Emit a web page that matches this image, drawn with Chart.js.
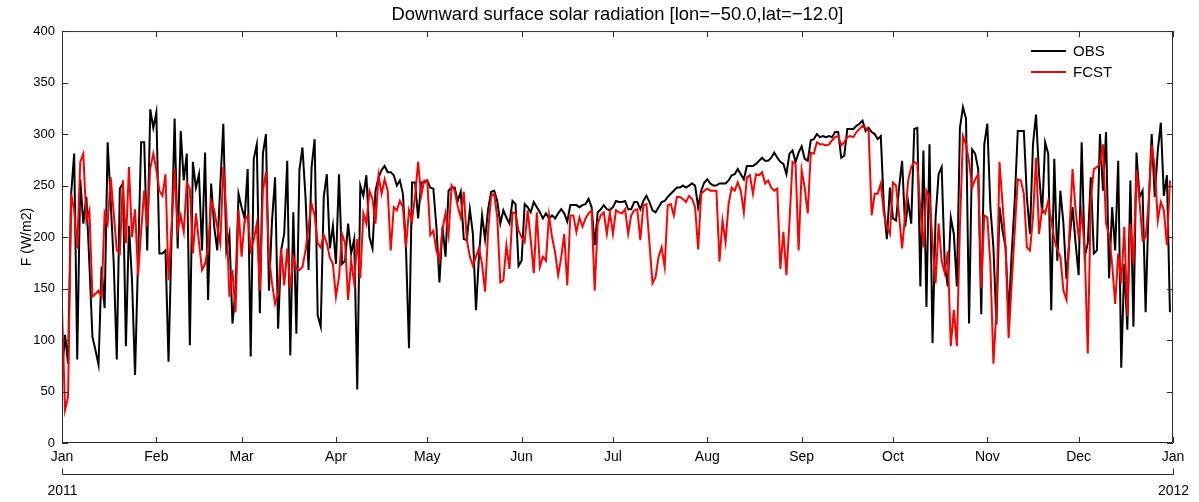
<!DOCTYPE html>
<html>
<head>
<meta charset="utf-8">
<script src="https://cdn.jsdelivr.net/npm/chart.js@4.4.1/dist/chart.umd.min.js"></script>
<style>
  html, body { margin: 0; padding: 0; background: #fff; }
  #wrap { width: 1199px; height: 502px; position: relative; }
</style>
</head>
<body>
<div id="wrap"><canvas id="c" width="1199" height="502"></canvas></div>
<script>
// Daily downward surface solar radiation for 2011 (W/m2), one row per month
const obs = [
  68,105,77,242,281,81,256,213,239,174,103,90,76,171,131,292,235,174,81,247,252,94,211,158,66,180,292,292,187,324,306,
  321,184,184,187,79,200,315,189,303,255,281,95,273,248,261,187,282,139,252,210,187,250,310,187,203,116,148,242,
  229,218,266,84,276,290,126,281,300,148,216,258,111,187,203,274,85,224,106,265,287,239,168,268,295,124,113,239,261,189,211,
  174,261,174,177,213,184,198,52,250,240,260,200,189,245,258,265,269,263,263,260,250,255,242,190,92,253,253,218,253,253,
  255,248,247,210,156,210,181,245,248,248,235,244,198,197,227,203,129,182,221,198,227,244,245,235,213,226,219,213,235,232,172,
  177,232,229,224,234,229,224,218,223,218,221,218,223,227,223,215,231,231,231,229,231,232,237,229,192,224,227,231,227,226,
  229,235,234,234,235,227,227,234,234,227,235,240,234,226,224,229,234,235,239,242,245,248,248,250,248,250,252,250,229,245,253,
  256,252,250,250,252,252,252,255,260,261,266,261,256,269,269,269,271,274,277,274,274,277,282,277,273,271,261,281,284,273,282,
  288,276,274,294,295,300,297,298,297,298,297,302,302,277,279,305,305,305,308,310,313,303,306,302,300,295,298,230,198,248,
  218,216,248,274,210,234,213,305,306,152,284,132,290,97,219,261,268,174,152,219,203,152,306,326,315,116,285,281,266,125,290,
  310,229,190,115,229,206,190,123,184,235,303,303,303,239,203,290,319,261,223,292,281,129,276,177,245,213,159,198,229,194,
  163,292,181,194,258,184,187,300,245,302,160,229,187,274,73,174,110,255,113,282,239,245,127,231,300,239,284,311,240,260,127
];
const fcst = [
  131,32,45,242,226,189,273,281,216,226,142,145,148,142,223,213,258,223,187,184,255,194,268,200,227,163,206,245,210,267,281,
  265,245,240,261,158,210,266,206,221,205,253,247,184,223,195,168,174,190,235,226,210,194,268,223,142,168,127,227,
  181,216,221,187,197,213,148,245,263,181,155,135,145,189,153,189,150,181,169,168,171,187,210,232,221,194,190,202,194,180,174,
  142,161,203,194,139,177,155,198,160,223,213,245,237,213,260,242,256,245,187,229,226,235,229,190,226,216,240,273,240,255,
  255,202,206,187,177,208,223,202,250,245,230,219,244,197,181,172,181,189,174,147,206,240,242,219,156,158,192,169,224,223,206,
  200,195,226,197,165,224,171,181,177,221,200,185,163,180,203,153,221,221,205,219,210,218,223,226,148,213,221,224,203,224,
  203,226,224,223,227,203,221,226,227,197,231,232,194,155,161,181,190,171,231,232,221,239,239,237,234,240,237,229,188,242,245,
  247,245,245,245,176,216,195,232,248,245,253,245,224,258,260,242,261,260,263,252,255,248,245,247,169,205,163,215,273,271,187,
  265,248,223,282,281,292,290,290,289,290,294,297,298,289,292,297,298,297,302,305,308,306,303,221,242,242,252,223,210,203,
  253,250,221,189,221,255,268,273,271,226,190,245,239,195,155,213,177,165,186,94,129,94,210,298,290,273,248,256,261,150,221,
  219,174,77,129,273,232,190,102,155,206,256,255,242,190,187,219,277,203,227,223,235,216,198,187,181,148,139,206,266,226,
  200,223,187,87,237,266,268,271,290,213,202,174,135,184,155,210,123,213,174,265,235,197,200,232,289,268,216,234,226,192,255
];

// Axis ticks: day-of-year at the start of each month, and y ticks
const monthStarts = [0,31,59,90,120,151,181,212,243,273,304,334,365];
const monthLabels = ['Jan','Feb','Mar','Apr','May','Jun','Jul','Aug','Sep','Oct','Nov','Dec','Jan'];
const yearLabels = ['2011','2012'];
const yTicks = [0,50,100,150,200,250,300,350,400];

const FONT = '"Liberation Sans", Arial, Helvetica, sans-serif';
const AXIS = '#2b2b2b';

// Box around the axes with inward tick marks, a year axis below the months, and an inset legend
const axesDecor = {
  id: 'axesDecor',
  afterDatasetsDraw(chart) {
    const { ctx, chartArea: a, scales: { x, y } } = chart;
    const tl = 6;
    ctx.save();
    ctx.strokeStyle = AXIS;
    ctx.lineWidth = 1;
    ctx.beginPath();
    ctx.rect(a.left + 0.5, a.top + 0.5, a.right - a.left - 1, a.bottom - a.top - 1);
    yTicks.forEach(v => {
      const py = Math.round(y.getPixelForValue(v)) + 0.5;
      ctx.moveTo(a.left, py); ctx.lineTo(a.left + tl, py);
      ctx.moveTo(a.right, py); ctx.lineTo(a.right - tl, py);
    });
    monthStarts.forEach(v => {
      const px = Math.round(x.getPixelForValue(v)) + 0.5;
      ctx.moveTo(px, a.bottom); ctx.lineTo(px, a.bottom - tl);
      ctx.moveTo(px, a.top); ctx.lineTo(px, a.top + tl);
    });
    ctx.stroke();
    ctx.restore();
  },
  afterDraw(chart) {
    const { ctx, scales: { x } } = chart;
    ctx.save();
    // year axis
    const yy = 474.5;
    ctx.strokeStyle = AXIS;
    ctx.lineWidth = 1;
    ctx.beginPath();
    const x0 = Math.round(x.getPixelForValue(monthStarts[0])) + 0.5;
    const x1 = Math.round(x.getPixelForValue(monthStarts[monthStarts.length - 1])) + 0.5;
    ctx.moveTo(x0, yy); ctx.lineTo(x1, yy);
    ctx.moveTo(x0, yy); ctx.lineTo(x0, yy - 6);
    ctx.moveTo(x1, yy); ctx.lineTo(x1, yy - 6);
    ctx.stroke();
    ctx.fillStyle = '#000';
    ctx.font = '14px ' + FONT;
    ctx.textAlign = 'center';
    ctx.textBaseline = 'middle';
    ctx.fillText(yearLabels[0], x0, 491);
    ctx.fillText(yearLabels[1], x1, 491);

    // legend
    const ds = chart.data.datasets;
    const lx0 = 1031, lx1 = 1066, tx = 1073;
    const rows = [51, 72];
    ctx.textAlign = 'left';
    ctx.font = '15px ' + FONT;
    [0, 1].forEach((i, k) => {
      ctx.strokeStyle = ds[i].borderColor;
      ctx.lineWidth = 2;
      ctx.beginPath();
      ctx.moveTo(lx0, rows[k]); ctx.lineTo(lx1, rows[k]);
      ctx.stroke();
      ctx.fillStyle = '#000';
      ctx.fillText(ds[i].label, tx, rows[k] + 1);
    });
    ctx.restore();
  }
};

const toPoints = arr => arr.map((v, i) => ({ x: i, y: v }));

new Chart(document.getElementById('c'), {
  type: 'line',
  data: {
    datasets: [
      { label: 'OBS', data: toPoints(obs), borderColor: '#000000', borderWidth: 2, pointRadius: 0, tension: 0, order: 1 },
      { label: 'FCST', data: toPoints(fcst), borderColor: '#ff0000', borderWidth: 2, pointRadius: 0, tension: 0, order: 0 }
    ]
  },
  options: {
    responsive: false,
    animation: false,
    devicePixelRatio: 1,
    layout: { padding: { top: 0, right: 26, bottom: 0, left: 0 } },
    plugins: {
      legend: { display: false },
      tooltip: { enabled: false },
      title: {
        display: true,
        fullSize: false,
        text: 'Downward surface solar radiation [lon=\u221250.0,lat=\u221212.0]',
        color: '#000',
        font: { family: FONT, size: 18.4, weight: 'normal' },
        padding: { top: 4, bottom: 5 }
      }
    },
    scales: {
      x: {
        type: 'linear',
        min: monthStarts[0],
        max: monthStarts[monthStarts.length - 1],
        grid: { display: false, drawTicks: false, tickLength: 0 },
        border: { display: false },
        afterBuildTicks: s => { s.ticks = monthStarts.map(v => ({ value: v })); },
        afterFit: s => { s.height = 59; },
        ticks: {
          autoSkip: false, maxRotation: 0, padding: 6, color: '#000',
          font: { family: FONT, size: 14 },
          callback: (v, i) => monthLabels[i]
        }
      },
      y: {
        min: 0, max: 400,
        grid: { display: false, drawTicks: false, tickLength: 0 },
        border: { display: false },
        afterBuildTicks: s => { s.ticks = yTicks.map(v => ({ value: v })); },
        afterFit: s => { s.width = 62; },
        ticks: { padding: 7, color: '#000', font: { family: FONT, size: 13 } },
        title: {
          display: true, text: 'F (W/m2)', color: '#000',
          font: { family: FONT, size: 14 },
          padding: { top: 19, bottom: 0 }
        }
      }
    }
  },
  plugins: [axesDecor]
});
</script>
</body>
</html>
